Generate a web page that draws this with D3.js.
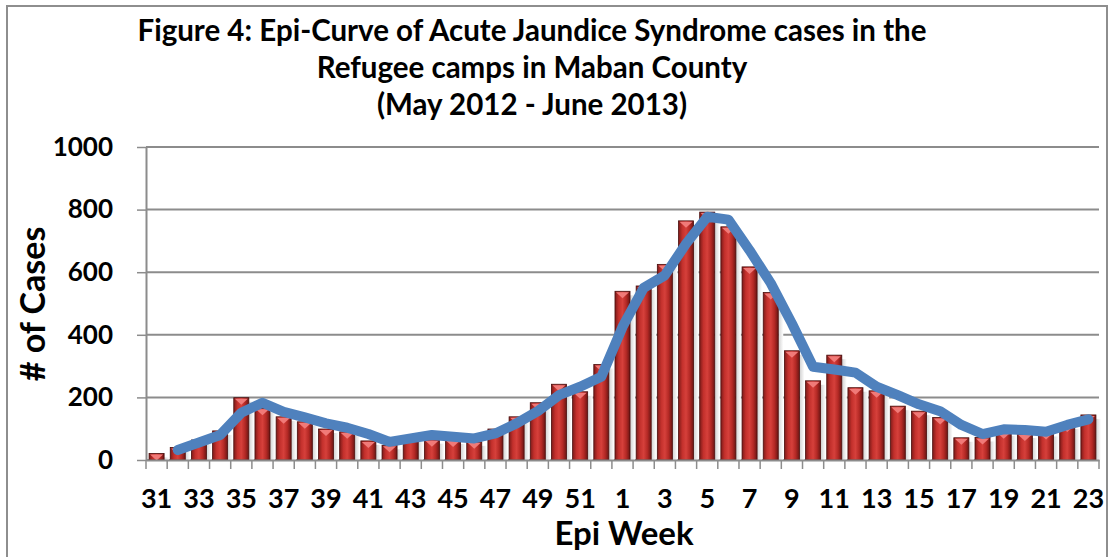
<!DOCTYPE html>
<html>
<head>
<meta charset="utf-8">
<script src="https://cdn.jsdelivr.net/npm/d3@7"></script>
<style>
  body { margin: 0; background: #fff; }
  text { font-family: Lato, "Open Sans", sans-serif; font-weight: bold; fill: #000; }
</style>
</head>
<body>
<div class="chart"></div>
<script>
// epi weeks, 2012 wk31 .. 2013 wk23
const weeks = [31,32,33,34,35,36,37,38,39,40,41,42,43,44,45,46,47,48,49,50,51,52,
               1,2,3,4,5,6,7,8,9,10,11,12,13,14,15,16,17,18,19,20,21,22,23];
const cases = [21,40,64,93,199,165,138,122,99,90,61,47,78,65,64,58,99,138,183,242,218,305,
               539,556,625,764,792,745,617,535,349,253,335,231,221,172,156,136,71,72,90,83,88,112,144];
// trend line (starts at week 32)
const trend = [null,32,56,80,151,183,154,136,117,103,83,58,69,80,74,69,85,117,156,207,234,266,
               425,550,590,691,777,768,670,565,436,298,289,279,234,207,178,156,112,83,98,96,90,112,130];
const yTicks = [0,200,400,600,800,1000];
const titleLines = ["Figure 4: Epi-Curve of Acute Jaundice Syndrome cases in the",
                    "Refugee camps in Maban County",
                    "(May 2012 - June 2013)"];

const outerWidth = 1111, outerHeight = 557;
const margin = {top: 147, left: 146, bottom: 97, right: 12};
const width = outerWidth - margin.left - margin.right;
const height = outerHeight - margin.top - margin.bottom;

const root = d3.select(".chart").append("svg")
    .attr("width", outerWidth)
    .attr("height", outerHeight);

// frame
root.append("rect")
    .attr("x", 7).attr("y", 6)
    .attr("width", 1100).attr("height", outerHeight)
    .attr("fill", "none").attr("stroke", "#8e8e8e").attr("stroke-width", 2);

const defs = root.append("defs");
const grad = defs.append("linearGradient").attr("id", "barGrad")
    .attr("x1", "0%").attr("x2", "100%").attr("y1", "0%").attr("y2", "0%");
[["0%", "#7d1b19"], ["25%", "#c3302c"], ["50%", "#d6403b"], ["75%", "#b42925"], ["100%", "#6a1513"]]
    .forEach(s => grad.append("stop").attr("offset", s[0]).attr("stop-color", s[1]));

const shadow = defs.append("linearGradient").attr("id", "shadowGrad")
    .attr("x1", "0%").attr("x2", "100%");
[["0%", "#cfcfcf"], ["100%", "#ffffff"]]
    .forEach(s => shadow.append("stop").attr("offset", s[0]).attr("stop-color", s[1]));

// title
root.append("g").selectAll("text")
    .data(titleLines)
    .join("text")
    .attr("x", 532)
    .attr("y", (d, i) => 41 + i * 37)
    .attr("text-anchor", "middle")
    .style("font-size", "29.5px")
    .text(d => d);

const svg = root.append("g")
    .attr("transform", `translate(${margin.left}, ${margin.top})`);

const xScale = d3.scaleBand()
    .domain(d3.range(weeks.length))
    .range([0, width])
    .paddingInner(0.29)
    .paddingOuter(0.145);

const yScale = d3.scaleLinear()
    .domain([0, 1000])
    .range([height, 0]);

// gridlines
svg.append("g").selectAll("line")
    .data(yTicks)
    .join("line")
    .attr("x1", 0).attr("x2", width)
    .attr("y1", d => yScale(d)).attr("y2", d => yScale(d))
    .attr("stroke", "#8c8c8c").attr("stroke-width", 2);

// y axis
const yAxis = d3.axisLeft(yScale).tickValues(yTicks).tickFormat(d3.format("d"))
    .tickSize(9).tickSizeOuter(0).tickPadding(24);
svg.append("g")
    .attr("class", "axis-y-axis")
    .call(yAxis)
    .call(g => g.select(".domain").attr("stroke", "#8c8c8c").attr("stroke-width", 2))
    .call(g => g.selectAll(".tick line").attr("stroke", "#8c8c8c").attr("stroke-width", 1.5))
    .call(g => g.selectAll("text").style("font-size", "26px").style("font-family", "Lato, sans-serif"));

// bar shadows (3D depth)
svg.append("g").selectAll("rect")
    .data(cases)
    .join("rect")
    .attr("x", (d, i) => xScale(i) + xScale.bandwidth())
    .attr("y", d => yScale(d) + 4)
    .attr("width", 5)
    .attr("height", d => height - yScale(d) - 4)
    .attr("fill", "url(#shadowGrad)");

// bars
svg.append("g").selectAll("rect")
    .data(cases)
    .join("rect")
    .attr("x", (d, i) => xScale(i))
    .attr("y", d => yScale(d))
    .attr("width", xScale.bandwidth())
    .attr("height", d => height - yScale(d))
    .attr("fill", "url(#barGrad)")
    .attr("stroke", "#4a0d0c")
    .attr("stroke-width", 0.8);

// top caps
svg.append("g").selectAll("path")
    .data(cases)
    .join("path")
    .attr("d", (d, i) => {
        const x0 = xScale(i) + 1, x1 = xScale(i) + xScale.bandwidth() - 1;
        const y0 = yScale(d) + 1, xm = (x0 + x1) / 2;
        return `M${x0},${y0}L${x1},${y0}L${xm},${y0 + 6}Z`;
    })
    .attr("fill", "#f07a78");

// x axis
const xAxis = d3.axisBottom(xScale).tickSize(0).tickPadding(29)
    .tickFormat(i => (i % 2 === 0 ? weeks[i] : ""));
svg.append("g")
    .attr("class", "axis-x-axis")
    .attr("transform", `translate(0, ${height})`)
    .call(xAxis)
    .call(g => g.select(".domain").attr("stroke", "#8c8c8c").attr("stroke-width", 2))
    .call(g => g.selectAll("text").style("font-size", "27px").style("font-family", "Lato, sans-serif"));

// tick marks at band boundaries
const step = xScale.step();
svg.append("g").selectAll("line")
    .data(d3.range(weeks.length + 1))
    .join("line")
    .attr("x1", i => i * step).attr("x2", i => i * step)
    .attr("y1", height).attr("y2", height + 9)
    .attr("stroke", "#8c8c8c").attr("stroke-width", 1.5);

// trend line
const line = d3.line()
    .defined(d => d != null)
    .x((d, i) => xScale(i) + xScale.bandwidth() / 2)
    .y(d => yScale(d));
svg.append("path")
    .datum(trend)
    .attr("d", line)
    .attr("fill", "none")
    .attr("stroke", "#4f81bd")
    .attr("stroke-width", 10)
    .attr("stroke-linejoin", "round")
    .attr("stroke-linecap", "round");

// axis titles
root.append("text")
    .attr("transform", "translate(45, 304) rotate(-90)")
    .attr("text-anchor", "middle")
    .style("font-size", "34px")
    .text("# of Cases");

root.append("text")
    .attr("x", 624).attr("y", 545)
    .attr("text-anchor", "middle")
    .style("font-size", "33px")
    .text("Epi Week");
</script>
</body>
</html>
